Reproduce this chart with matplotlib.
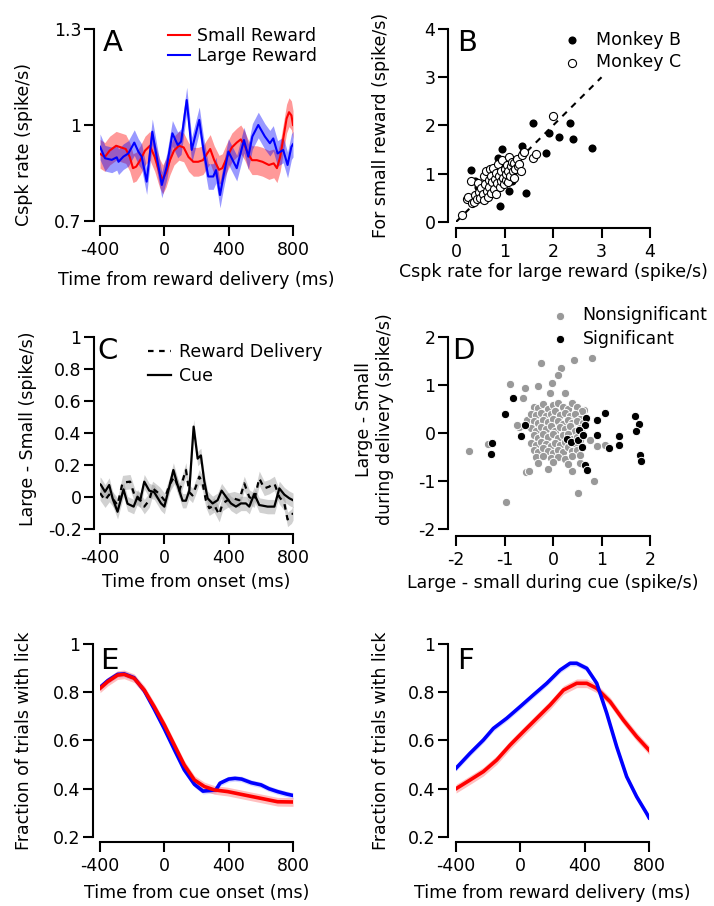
import numpy as np
import matplotlib
matplotlib.use('Agg')
import matplotlib.pyplot as plt

plt.rcParams['font.family'] = ['DejaVu Sans']
plt.rcParams['font.size'] = 12.5
plt.rcParams['axes.unicode_minus'] = False

# ---- panel A: Cspk rate, small vs large reward
a_small_t = [-400, -370, -340, -300, -270, -240, -215, -195, -175, -150, -120, -90, -60, -30, -10,
             10, 35, 60, 90, 120, 150, 180, 210, 240, 265, 285, 310, 340, 360, 390, 420, 450,
             475, 500, 520, 545, 575, 610, 650, 680, 700, 720, 740, 760, 775, 790, 800]
a_small_v = [0.91, 0.90, 0.92, 0.935, 0.93, 0.925, 0.90, 0.865, 0.87, 0.89, 0.92, 0.935, 0.90, 0.85, 0.83,
             0.85, 0.89, 0.92, 0.935, 0.93, 0.90, 0.885, 0.885, 0.89, 0.91, 0.925, 0.89, 0.86, 0.865, 0.90,
             0.93, 0.945, 0.955, 0.935, 0.91, 0.89, 0.89, 0.885, 0.875, 0.88, 0.865, 0.90, 0.96, 1.02,
             1.04, 1.03, 1.0]
a_large_t = [-400, -369, -327, -296, -285, -255, -224, -187, -162, -141, -110, -75, -48, -16, 15, 50,
             83, 104, 139, 170, 217, 242, 273, 304, 321, 346, 367, 398, 450, 495, 522, 547, 584, 625,
             656, 677, 704, 739, 766, 790, 800]
a_large_v = [0.932, 0.896, 0.891, 0.899, 0.885, 0.901, 0.911, 0.945, 0.917, 0.901, 0.823, 0.979, 0.901,
             0.8125, 0.870, 0.974, 0.9375, 0.948, 1.078, 0.922, 1.016, 0.927, 0.839, 0.839, 0.859, 0.781,
             0.839, 0.917, 0.865, 0.953, 0.901, 0.964, 1.0, 0.964, 0.943, 0.958, 0.911, 0.922, 0.875,
             0.932, 0.94]
a_small_sem = 0.045
a_large_sem = 0.04

# ---- panel B: small vs large reward rate per neuron
b_monkeyB_x = [1.59, 2.34, 1.92, 2.13, 2.41, 2.80, 1.85, 1.37, 0.95, 0.30, 1.45, 0.90, 1.10, 0.87,
               0.97, 1.38, 0.40, 0.46, 0.89, 0.55, 0.65, 0.75, 0.85, 1.05, 1.20, 0.50, 1.00, 1.30, 1.15]
b_monkeyB_y = [2.05, 2.06, 1.84, 1.76, 1.71, 1.54, 1.42, 1.58, 1.51, 1.08, 0.61, 0.34, 0.65, 1.32,
               1.25, 1.46, 0.84, 0.73, 1.11, 0.65, 0.95, 0.60, 0.75, 0.90, 1.10, 0.55, 1.25, 1.20, 0.85]
b_monkeyC_x = [0.12, 0.22, 0.25, 0.30, 0.33, 0.38, 0.40, 0.43, 0.45, 0.48, 0.50, 0.52, 0.55, 0.57,
               0.58, 0.60, 0.62, 0.63, 0.65, 0.67, 0.68, 0.70, 0.72, 0.73, 0.75, 0.77, 0.78, 0.80,
               0.82, 0.83, 0.85, 0.87, 0.88, 0.90, 0.92, 0.93, 0.95, 0.97, 0.98, 1.00, 1.02, 1.03,
               1.05, 1.07, 1.08, 1.10, 1.12, 1.14, 1.15, 1.17, 1.19, 1.20, 1.22, 1.25, 1.27, 1.30,
               1.33, 1.35, 1.40, 1.58, 1.65, 2.00]
b_monkeyC_y = [0.14, 0.48, 0.52, 0.85, 0.40, 0.42, 0.55, 0.48, 0.80, 0.62, 0.50, 0.70, 0.58, 0.95,
               0.45, 0.78, 1.05, 0.65, 0.52, 0.88, 0.72, 1.10, 0.60, 0.95, 0.82, 1.12, 0.68, 0.90,
               1.02, 0.58, 0.80, 1.20, 0.95, 0.72, 1.05, 0.85, 1.28, 0.92, 0.78, 1.10, 0.88, 1.00,
               1.18, 0.82, 1.05, 1.35, 0.95, 1.15, 1.25, 1.05, 0.92, 1.22, 1.10, 1.30, 1.15, 1.20,
               1.05, 1.38, 1.45, 1.32, 1.40, 2.20]
b_diag = [0, 3]

# ---- panel C: large - small difference
c_cue_t = [-400, -394, -369, -343, -322, -291, -254, -229, -191, -167, -150, -125, -94, -63, -21, 0,
           31, 56, 82, 113, 134, 155, 182, 207, 227, 248, 269, 300, 331, 356, 383, 414, 445, 476,
           507, 528, 559, 590, 642, 684, 715, 746, 777, 800]
c_cue_v = [0.08, 0.075, 0.033, 0.075, -0.008, -0.092, 0.048, -0.042, -0.06, 0.002, -0.02, 0.096, 0.04,
           0.03, -0.04, -0.06, 0.065, 0.169, 0.075, -0.023, -0.023, 0.04, 0.44, 0.24, 0.26, 0.10,
           -0.008, -0.04, -0.02, 0.04, 0.002, -0.04, -0.06, -0.04, -0.04, -0.06, 0.02, -0.05, -0.06,
           -0.06, 0.054, 0.015, -0.008, -0.02]
c_rew_t = [-400, -369, -343, -291, -260, -213, -182, -150, -125, -94, -73, -31, 0, 31, 62, 93, 113,
           134, 155, 175, 196, 217, 238, 258, 279, 310, 341, 362, 393, 434, 466, 497, 528, 559, 590,
           621, 652, 684, 715, 746, 766, 790, 800]
c_rew_v = [0.025, -0.02, 0.015, -0.05, 0.09, 0.096, 0.0, -0.02, -0.06, -0.02, 0.054, 0.02, -0.02, 0.075,
           0.127, 0.04, 0.10, 0.17, 0.03, 0.01, 0.065, 0.127, 0.085, -0.02, -0.07, -0.05, -0.11, -0.04,
           -0.02, -0.01, -0.02, 0.085, 0.0, -0.02, 0.117, 0.054, 0.065, 0.085, 0.0, -0.04, -0.14,
           -0.12, -0.10]
c_sem = 0.045

# ---- panel D: cue difference vs delivery difference
d_ns_x = [-0.25, 0.44, 0.80, 0.16, 0.10, -0.88, -0.02, -0.32, -0.58, 0.24, -0.07, -0.61, -1.74, -0.98,
          0.52, 0.84, -0.56, -0.50, -0.11, 0.39, 0.55, -0.71, 1.08, 0.90, 0.77, 0.63, -1.35, -0.74,
          -0.54,
          -0.40, -0.30, -0.20, -0.10, 0.00, 0.10, 0.20, 0.30, 0.40, 0.50, 0.60,
          -0.45, -0.35, -0.25, -0.15, -0.05, 0.05, 0.15, 0.25, 0.35, 0.45, 0.55,
          -0.40, -0.30, -0.20, -0.10, 0.00, 0.10, 0.20, 0.30, 0.40, 0.50, 0.62,
          -0.45, -0.35, -0.25, -0.15, -0.05, 0.05, 0.15, 0.25, 0.35, 0.45, 0.55,
          -0.40, -0.30, -0.20, -0.10, 0.00, 0.10, 0.20, 0.30, 0.40, 0.50, 0.60,
          -0.45, -0.35, -0.25, -0.15, -0.05, 0.05, 0.15, 0.25, 0.35, 0.45, 0.55,
          -0.40, -0.30, -0.20, -0.10, 0.00, 0.10, 0.20, 0.30, 0.40, 0.50,
          -0.35, -0.20, -0.05, 0.10, 0.25, 0.40, 0.55, -0.30, 0.00, 0.30]
d_ns_y = [1.46, 1.52, 1.57, 1.35, 1.21, 1.03, 1.05, 0.98, 0.94, 0.84, 0.83, 0.74, -0.38, -1.44,
          -1.26, -1.01, -0.81, -0.80, -0.76, -0.80, -0.63, 0.12, -0.25, -0.28, -0.15, 0.48, -0.22,
          0.17, 0.28,
          0.55, 0.52, 0.60, 0.50, 0.58, 0.62, 0.55, 0.50, 0.62, 0.55, 0.45,
          0.40, 0.38, 0.42, 0.35, 0.40, 0.45, 0.38, 0.42, 0.35, 0.40, 0.30,
          0.25, 0.20, 0.28, 0.22, 0.30, 0.25, 0.18, 0.28, 0.20, 0.25, 0.20,
          0.10, 0.05, 0.12, 0.08, 0.15, 0.05, 0.12, 0.08, 0.15, 0.05, 0.10,
          -0.05, -0.10, -0.02, -0.08, -0.03, -0.10, -0.05, -0.02, -0.12, -0.08, 0.00,
          -0.20, -0.25, -0.18, -0.22, -0.28, -0.20, -0.25, -0.18, -0.22, -0.28, -0.15,
          -0.35, -0.40, -0.32, -0.38, -0.42, -0.35, -0.40, -0.30, -0.38, -0.35,
          -0.50, -0.48, -0.52, -0.50, -0.55, -0.48, -0.45, -0.62, -0.60, -0.65]
d_sig_x = [-0.82, -0.99, -0.58, -0.66, -1.25, -1.27, 1.07, 0.69, 0.90, 1.68, 1.78, 1.71, 0.66, 0.54,
           0.90, 1.35, 0.28, 0.38, 0.51, 0.61, 0.59, 1.16, 1.37, 1.79, 1.82, 0.65, 0.71]
d_sig_y = [0.72, 0.40, 0.17, -0.06, -0.21, -0.44, 0.42, 0.31, 0.27, 0.35, 0.18, 0.04, 0.17, 0.06,
           -0.04, -0.06, -0.13, -0.18, -0.15, -0.04, -0.30, -0.32, -0.25, -0.46, -0.58, -0.67, -0.77]

# ---- panel E: licking aligned to cue
e_small_t = [-400, -352, -291, -250, -188, -125, -63, 0, 62, 124, 187, 249, 311, 394, 497, 601, 704, 800]
e_small_v = [0.816, 0.844, 0.871, 0.874, 0.858, 0.809, 0.74, 0.664, 0.581, 0.498, 0.436, 0.409,
             0.395, 0.388, 0.374, 0.36, 0.346, 0.345]
e_large_t = [-400, -352, -291, -250, -188, -125, -63, 0, 62, 124, 187, 240, 320, 346, 400, 439, 480,
             540, 601, 650, 704, 760, 800]
e_large_v = [0.82, 0.848, 0.874, 0.876, 0.86, 0.806, 0.73, 0.648, 0.562, 0.478, 0.418, 0.39, 0.395,
             0.423, 0.44, 0.443, 0.44, 0.425, 0.416, 0.40, 0.388, 0.378, 0.372]

# ---- panel F: licking aligned to reward delivery
f_small_t = [-400, -313, -230, -147, -64, 19, 102, 185, 268, 350, 413, 475, 558, 640, 723, 800]
f_small_v = [0.40, 0.436, 0.471, 0.519, 0.581, 0.637, 0.692, 0.747, 0.809, 0.837, 0.837, 0.816,
             0.761, 0.685, 0.616, 0.56]
f_large_t = [-400, -313, -230, -168, -85, -2, 81, 164, 247, 309, 350, 413, 475, 537, 599, 661, 723,
             785, 800]
f_large_v = [0.485, 0.547, 0.602, 0.65, 0.692, 0.74, 0.789, 0.837, 0.892, 0.92, 0.92, 0.899, 0.837,
             0.713, 0.574, 0.45, 0.367, 0.298, 0.28]
lick_sem_small = 0.018
lick_sem_large = 0.012

time_ticks = [-400, 0, 400, 800]


def style(ax, xlim, ylim, xticks, yticks, yticklabels, xoff=5, yoff=6):
    ax.set_xlim(xlim)
    ax.set_ylim(ylim)
    ax.set_xticks(xticks)
    ax.set_xticklabels([str(t) for t in xticks])
    ax.set_yticks(yticks)
    ax.set_yticklabels(yticklabels)
    for s in ['top', 'right']:
        ax.spines[s].set_visible(False)
    ax.spines['left'].set_position(('outward', yoff * 0.72))
    ax.spines['bottom'].set_position(('outward', xoff * 0.72))
    for s in ['left', 'bottom']:
        ax.spines[s].set_linewidth(1.5)
    ax.tick_params(axis='both', length=7, width=1.5, direction='out')
    ax.tick_params(axis='x', pad=4)
    ax.tick_params(axis='y', pad=2)


def letter(ax, s, x, y=1.0):
    ax.text(x, y, s, transform=ax.transAxes, fontsize=21, va='top', ha='left')


fig = plt.figure(figsize=(7.14, 9.06), dpi=100)
axA = fig.add_axes([0.1401, 0.7561, 0.2703, 0.2119])
axB = fig.add_axes([0.6387, 0.7550, 0.2717, 0.2130])
axC = fig.add_axes([0.1401, 0.4161, 0.2703, 0.2119])
axD = fig.add_axes([0.6387, 0.4161, 0.2717, 0.2119])
axE = fig.add_axes([0.1401, 0.0762, 0.2703, 0.2130])
axF = fig.add_axes([0.6387, 0.0762, 0.2703, 0.2130])

# A
t = np.array(a_small_t); v = np.array(a_small_v)
axA.fill_between(t, v - a_small_sem, v + a_small_sem, color='#ff0000', alpha=0.4, lw=0)
axA.plot(t, v, color='#ff0000', lw=1.5, label='Small Reward')
t = np.array(a_large_t); v = np.array(a_large_v)
axA.fill_between(t, v - a_large_sem, v + a_large_sem, color='#0000ff', alpha=0.4, lw=0)
axA.plot(t, v, color='#0000ff', lw=1.5, label='Large Reward')
style(axA, (-400, 800), (0.7, 1.3), time_ticks, [0.7, 1.0, 1.3], ['0.7', '1', '1.3'])
axA.set_xlabel('Time from reward delivery (ms)')
axA.set_ylabel('Cspk rate (spike/s)')
axA.xaxis.set_label_coords(0.5, -0.26)
axA.yaxis.set_label_coords(-0.347, 0.40)
letter(axA, 'A', 0.015)
axA.legend(loc='upper left', bbox_to_anchor=(0.35, 1.01), frameon=False, borderpad=0,
           borderaxespad=0, handlelength=1.3, handletextpad=0.4, labelspacing=0.1)

# B
axB.plot(b_diag, b_diag, color='k', ls=(0, (3, 3)), lw=1.5)
axB.scatter(b_monkeyB_x, b_monkeyB_y, s=34, color='k', lw=0, label='Monkey B', zorder=3)
axB.scatter(b_monkeyC_x, b_monkeyC_y, s=34, facecolor='white', edgecolor='k', lw=0.8,
            label='Monkey C', zorder=4)
style(axB, (0, 4), (0, 4), [0, 1, 2, 3, 4], [0, 1, 2, 3, 4], ['0', '1', '2', '3', '4'], 6, 8)
axB.set_xlabel('Cspk rate for large reward (spike/s)')
axB.set_ylabel('For small reward (spike/s)')
axB.xaxis.set_label_coords(0.5, -0.215)
axB.yaxis.set_label_coords(-0.34, 0.5)
letter(axB, 'B', 0.005)
axB.legend(loc='upper left', bbox_to_anchor=(0.56, 0.99), frameon=False, borderpad=0,
           borderaxespad=0, handlelength=0.8, handletextpad=1.0, labelspacing=0.25,
           scatterpoints=1)

# C
t = np.array(c_rew_t); v = np.array(c_rew_v)
axC.fill_between(t, v - c_sem, v + c_sem, color='#999999', alpha=0.45, lw=0)
axC.plot(t, v, color='k', lw=1.6, ls=(0, (2.5, 2.5)), label='Reward Delivery')
t = np.array(c_cue_t); v = np.array(c_cue_v)
axC.fill_between(t, v - c_sem, v + c_sem, color='#999999', alpha=0.45, lw=0)
axC.plot(t, v, color='k', lw=1.6, label='Cue')
style(axC, (-400, 800), (-0.2, 1.0), time_ticks, [-0.2, 0, 0.2, 0.4, 0.6, 0.8, 1.0],
      ['-0.2', '0', '0.2', '0.4', '0.6', '0.8', '1'])
axC.set_xlabel('Time from onset (ms)')
axC.set_ylabel('Large - Small (spike/s)')
axC.xaxis.set_label_coords(0.5, -0.23)
axC.yaxis.set_label_coords(-0.326, 0.52)
letter(axC, 'C', -0.015)
axC.legend(loc='upper left', bbox_to_anchor=(0.25, 0.97), frameon=False, borderpad=0,
           borderaxespad=0, handlelength=1.3, handletextpad=0.45, labelspacing=0.35)

# D
axD.scatter(d_ns_x, d_ns_y, s=36, color='#999999', edgecolor='white', lw=0.7,
            label='Nonsignificant', zorder=3)
axD.scatter(d_sig_x, d_sig_y, s=36, color='k', edgecolor='white', lw=0.7,
            label='Significant', zorder=4)
style(axD, (-2, 2), (-2, 2), [-2, -1, 0, 1, 2], [-2, -1, 0, 1, 2], ['-2', '-1', '0', '1', '2'], 7, 8)
axD.set_xlabel('Large - small during cue (spike/s)')
axD.set_ylabel('Large - Small\nduring delivery (spike/s)')
axD.xaxis.set_label_coords(0.5, -0.235)
axD.yaxis.set_label_coords(-0.32, 0.57)
letter(axD, 'D', -0.02)
axD.legend(loc='upper left', bbox_to_anchor=(0.5, 1.16), frameon=False, borderpad=0,
           borderaxespad=0, handlelength=0.8, handletextpad=0.9, labelspacing=0.3,
           scatterpoints=1)

# E
t = np.array(e_large_t); v = np.array(e_large_v)
axE.fill_between(t, v - lick_sem_large, v + lick_sem_large, color='#0000ff', alpha=0.15, lw=0)
axE.plot(t, v, color='#0000ff', lw=2.6)
t = np.array(e_small_t); v = np.array(e_small_v)
axE.fill_between(t, v - lick_sem_small, v + lick_sem_small, color='#ff0000', alpha=0.25, lw=0)
axE.plot(t, v, color='#ff0000', lw=2.6)
yt = [0.2, 0.4, 0.6, 0.8, 1.0]
ytl = ['0.2', '0.4', '0.6', '0.8', '1']
style(axE, (-400, 800), (0.2, 1.0), time_ticks, yt, ytl, 5, 7)
axE.set_xlabel('Time from cue onset (ms)')
axE.set_ylabel('Fraction of trials with lick')
axE.xaxis.set_label_coords(0.5, -0.245)
axE.yaxis.set_label_coords(-0.347, 0.5)
letter(axE, 'E', 0.0, 0.985)

# F
t = np.array(f_small_t); v = np.array(f_small_v)
axF.fill_between(t, v - lick_sem_small, v + lick_sem_small, color='#ff0000', alpha=0.25, lw=0)
axF.plot(t, v, color='#ff0000', lw=2.6)
t = np.array(f_large_t); v = np.array(f_large_v)
axF.fill_between(t, v - lick_sem_large, v + lick_sem_large, color='#0000ff', alpha=0.15, lw=0)
axF.plot(t, v, color='#0000ff', lw=2.6)
style(axF, (-400, 800), (0.2, 1.0), time_ticks, yt, ytl, 5, 8)
axF.set_xlabel('Time from reward delivery (ms)')
axF.set_ylabel('Fraction of trials with lick')
axF.xaxis.set_label_coords(0.5, -0.245)
axF.yaxis.set_label_coords(-0.342, 0.5)
letter(axF, 'F', 0.005, 0.985)

fig.savefig('out.png', dpi=100)
